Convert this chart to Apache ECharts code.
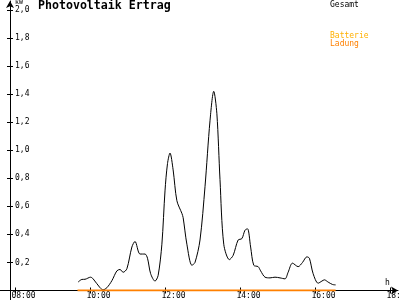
<!DOCTYPE html>
<html>
<head>
<meta charset="utf-8">
<script src="https://cdn.jsdelivr.net/npm/echarts@6/dist/echarts.min.js"></script>
<style>html,body{margin:0;padding:0;background:#fff}#c{width:400px;height:300px}</style>
</head>
<body>
<div id="c"></div>
<script>
var gesamtTimes = ["09:41","09:47","09:52","10:01","10:05","10:16","10:21","10:27","10:35","10:43","10:48","10:53","10:59","11:07","11:12","11:20","11:28","11:32","11:37","11:44","11:49","11:55","12:00","12:04","12:08","12:13","12:19","12:27","12:29","12:35","12:43","12:48","12:56","13:04","13:12","13:18","13:23","13:28","13:34","13:43","13:49","13:57","14:03","14:08","14:12","14:17","14:22","14:29","14:33","14:40","14:48","14:56","15:04","15:12","15:17","15:24","15:33","15:40","15:47","15:51","15:57","16:05","16:11","16:15","16:21","16:28","16:33"];
var gesamtValues = [0.06,0.079,0.08,0.095,0.083,0.02,0.005,0.02,0.07,0.14,0.15,0.13,0.155,0.31,0.35,0.26,0.26,0.23,0.12,0.067,0.107,0.33,0.71,0.905,0.98,0.86,0.64,0.55,0.52,0.33,0.18,0.2,0.36,0.74,1.21,1.42,1.26,0.79,0.33,0.22,0.25,0.36,0.37,0.43,0.44,0.31,0.18,0.17,0.14,0.095,0.09,0.095,0.09,0.083,0.13,0.195,0.17,0.2,0.24,0.23,0.12,0.052,0.067,0.076,0.06,0.043,0.04];
var ladungTimes = ["09:40","16:33"];
var ladungValues = [0,0];
var batterieTimes = [];
var batterieValues = [];
var xTickTimes = ["08:00","10:00","12:00","14:00","16:00","18:00"];
var yTickValues = [0.2,0.4,0.6,0.8,1.0,1.2,1.4,1.6,1.8,2.0];

function toMin(t){var p=t.split(":");return (+p[0])*60+(+p[1]);}
function pad(n){return (n<10?"0":"")+n;}
function fmtTime(m){return pad(Math.floor(m/60))+":"+pad(m%60);}
function pairs(ts,vs){return ts.map(function(t,i){return [toMin(t),vs[i]];});}
var xTicks = xTickTimes.map(toMin);
var FONT = "DejaVu Sans Mono";
var xMin = 456, xMax = 1092.8, yMin = 0, yMax = 2.064;

function legendBox(name,color,top){
  return {data:[name],left:325,top:top,padding:0,icon:'none',itemWidth:0,itemHeight:0,selectedMode:false,
    textStyle:{fontFamily:FONT,fontSize:8,color:color}};
}

var chart = echarts.init(document.getElementById('c'), null, {renderer:'canvas'});
chart.setOption({
  animation:false,
  backgroundColor:'#fff',
  title:{text:'Photovoltaik Ertrag',left:38,top:0,padding:0,
    textStyle:{fontFamily:FONT,fontWeight:'bold',fontSize:11.6,color:'#000'}},
  legend:[
    legendBox('Gesamt','#000',1),
    legendBox('Batterie','#FFB000',32),
    legendBox('Ladung','#FF8000',40)
  ],
  graphic:[
    {type:'line',shape:{x1:10.5,y1:290,x2:10.5,y2:300},style:{stroke:'#000',lineWidth:1},silent:true}
  ],
  grid:{left:0,right:2,top:1,bottom:9.5,containLabel:false,outerBoundsMode:'none'},
  xAxis:[
    {type:'value',min:xMin,max:xMax,position:'bottom',
     name:'h',nameLocation:'end',nameGap:-13,
     nameTextStyle:{fontFamily:FONT,fontSize:8,color:'#000',verticalAlign:'bottom',padding:[0,0,4,0]},
     axisLine:{onZero:false,lineStyle:{color:'#000',width:1},symbol:['none','arrow'],symbolSize:[6,7]},
     axisTick:{show:true,inside:false,length:3,customValues:xTicks,lineStyle:{color:'#000'}},
     axisLabel:{show:true,customValues:xTicks,margin:1,fontFamily:FONT,fontSize:8,color:'#000',
       align:'center',padding:[0,0,0,17],
       formatter:function(v){return fmtTime(Math.round(v));}},
     splitLine:{show:false}},
    {type:'value',min:xMin,max:xMax,position:'bottom',
     axisLine:{show:false,onZero:false},
     axisTick:{show:true,inside:true,length:3,customValues:xTicks,lineStyle:{color:'#000'}},
     axisLabel:{show:false},splitLine:{show:false}}
  ],
  yAxis:[
    {type:'value',min:yMin,max:yMax,position:'left',offset:-10,
     name:'kW',nameLocation:'end',nameGap:-5,
     nameTextStyle:{fontFamily:FONT,fontSize:6.5,color:'#000',align:'left',verticalAlign:'top',padding:[0,0,0,5]},
     axisLine:{show:true,onZero:false,lineStyle:{color:'#000',width:1},symbol:['none','arrow'],symbolSize:[6,7]},
     axisTick:{show:true,inside:true,length:3,customValues:yTickValues,lineStyle:{color:'#000'}},
     axisLabel:{show:true,inside:true,margin:5,customValues:yTickValues,fontFamily:FONT,fontSize:8,color:'#000',
       formatter:function(v){return v.toFixed(1).replace('.',',');}},
     splitLine:{show:false}},
    {type:'value',min:yMin,max:yMax,position:'left',offset:-10,
     axisLine:{show:false,onZero:false},
     axisTick:{show:true,inside:false,length:3,customValues:yTickValues,lineStyle:{color:'#000'}},
     axisLabel:{show:false},splitLine:{show:false}}
  ],
  series:[
    {name:'Gesamt',type:'line',xAxisIndex:0,yAxisIndex:0,data:pairs(gesamtTimes,gesamtValues),
     showSymbol:false,smooth:0.3,lineStyle:{color:'#000',width:1},itemStyle:{color:'#000'},z:3},
    {name:'Batterie',type:'line',data:pairs(batterieTimes,batterieValues),showSymbol:false,
     lineStyle:{color:'#FFB000',width:2},itemStyle:{color:'#FFB000'}},
    {name:'Ladung',type:'line',data:pairs(ladungTimes,ladungValues),showSymbol:false,
     lineStyle:{color:'#FF8000',width:2},itemStyle:{color:'#FF8000'},z:4}
  ]
});
</script>
</body>
</html>
